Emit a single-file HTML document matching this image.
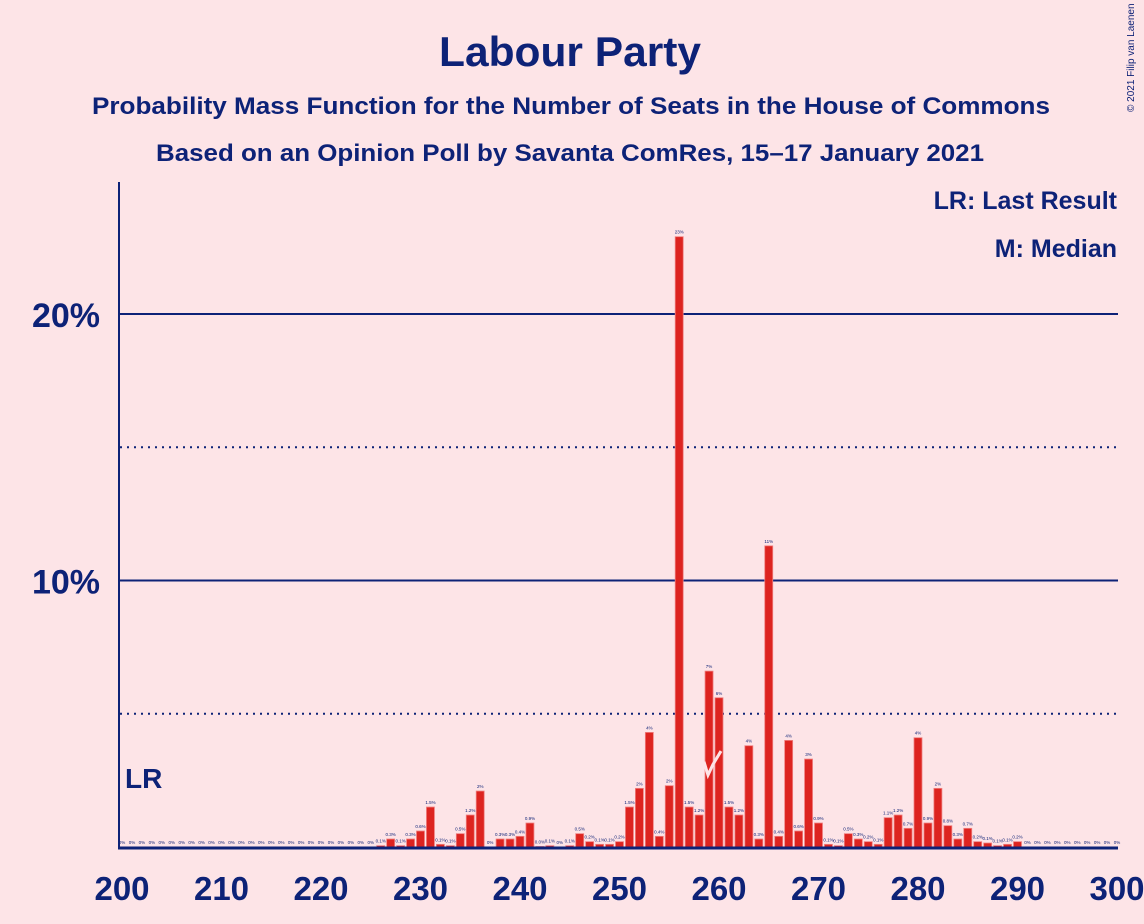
<!DOCTYPE html>
<html><head><meta charset="utf-8"><style>
body{margin:0;background:#fde4e7;}
svg{display:block;font-family:"Liberation Sans",sans-serif;}
</style></head><body>
<svg id="chart" width="1144" height="924" viewBox="0 0 1144 924" xmlns="http://www.w3.org/2000/svg">
<rect width="1144" height="924" fill="#fde4e7"/>
<text x="570" y="66" text-anchor="middle" font-size="42" font-weight="bold" fill="#0d2277" textLength="262" lengthAdjust="spacingAndGlyphs">Labour Party</text>
<text x="571" y="114" text-anchor="middle" font-size="24" font-weight="bold" fill="#0d2277" textLength="958" lengthAdjust="spacingAndGlyphs">Probability Mass Function for the Number of Seats in the House of Commons</text>
<text x="570" y="161" text-anchor="middle" font-size="24" font-weight="bold" fill="#0d2277" textLength="828" lengthAdjust="spacingAndGlyphs">Based on an Opinion Poll by Savanta ComRes, 15–17 January 2021</text>
<text x="1134" y="112" font-size="10" fill="#0d2277" transform="rotate(-90 1134 112)">© 2021 Filip van Laenen</text>
<text x="1117" y="209" text-anchor="end" font-size="25" font-weight="bold" fill="#0d2277">LR: Last Result</text>
<text x="1117" y="257" text-anchor="end" font-size="25" font-weight="bold" fill="#0d2277">M: Median</text>
<g id="grid"></g><g id="bars"></g><g id="axes"></g>
</svg>
<script>
const seats = [];
for (let s = 200; s <= 300; s++) seats.push(s);
const probSeats = [226,227,228,229,230,231,232,233,234,235,236,237,238,239,240,241,242,243,244,245,246,247,248,249,250,251,252,253,254,255,256,257,258,259,260,261,262,263,264,265,266,267,268,269,270,271,272,273,274,275,276,277,278,279,280,281,282,283,284,285,286,287,288,289,290];
const probValues = [0.05,0.3,0.05,0.3,0.6,1.5,0.1,0.05,0.5,1.2,2.1,0,0.3,0.3,0.4,0.9,0.02,0.05,0,0.05,0.5,0.2,0.1,0.1,0.2,1.5,2.2,4.3,0.4,2.3,22.9,1.5,1.2,6.6,5.6,1.5,1.2,3.8,0.3,11.3,0.4,4.0,0.6,3.3,0.9,0.1,0.05,0.5,0.3,0.2,0.1,1.1,1.2,0.7,4.1,0.9,2.2,0.8,0.3,0.7,0.2,0.15,0.05,0.1,0.2];
const xTicks = [200,210,220,230,240,250,260,270,280,290,300];
const yTicks = [10,20];
const yDotted = [5,15];
const lastResult = 202;
const median = 260;

const NS = "http://www.w3.org/2000/svg";
const X0 = 122, X1 = 1117, Y0 = 847, YPER = 26.65;
const xs = s => X0 + (s - 200) * (X1 - X0) / 100;
const ys = v => Y0 - v * YPER;
function mk(tag, attrs, parent) {
  const e = document.createElementNS(NS, tag);
  for (const k in attrs) e.setAttribute(k, attrs[k]);
  parent.appendChild(e);
  return e;
}
const grid = document.getElementById('grid'), bars = document.getElementById('bars'), axes = document.getElementById('axes');
yTicks.forEach(v => {
  const l = mk('line', {x1: 118, x2: 1118, y1: ys(v), y2: ys(v), stroke: '#0d2277', 'stroke-width': 2}, grid);
  
  
  const t = mk('text', {x: 100, y: ys(v) + 13, 'text-anchor': 'end', 'font-size': 34, 'font-weight': 'bold', fill: '#0d2277'}, axes);
  t.textContent = v + '%';
  
  
});
yDotted.forEach(v => {
  const l = mk('line', {x1: 120, x2: 1118, y1: ys(v), y2: ys(v), stroke: '#0d2277', 'stroke-width': 2, 'stroke-dasharray': '2,5'}, grid);
  
  
});
seats.forEach(s => {
  const i = probSeats.indexOf(s);
  const v = i >= 0 ? probValues[i] : 0;
  const x = xs(s);
  if (v > 0) {
    const r = mk('rect', {x: x - 4, y: ys(v), width: 8, height: Y0 - ys(v), fill: '#dd2420', stroke: '#f08080', 'stroke-width': 0.8}, bars);
    
    
  }
  const t = mk('text', {x: x, y: ys(v) - 3, 'text-anchor': 'middle', 'font-size': 4.5, fill: '#0d2277'}, bars);
  t.textContent = v === 0 ? '0%' : (v >= 2 ? Math.round(v) + '%' : v.toFixed(1) + '%');
  
  
});
// median marker
const mx = xs(median);
const mpath = mk('path', {d: `M${mx-15} ${ys(3.2)} L${mx-11} ${ys(2.7)} L${mx-6} ${ys(3.1)} L${mx+2} ${ys(3.6)}`, fill: 'none', stroke: '#fde4e7', 'stroke-width': 3}, bars);


// LR
const lr = mk('text', {x: 125, y: 788, 'font-size': 28, 'font-weight': 'bold', fill: '#0d2277'}, axes);
lr.textContent = 'LR';


const ya = mk('line', {x1: 119, x2: 119, y1: 182, y2: 848, stroke: '#0d2277', 'stroke-width': 2}, axes);


const xa = mk('line', {x1: 118, x2: 1118, y1: 848, y2: 848, stroke: '#0d2277', 'stroke-width': 3}, axes);


xTicks.forEach(s => {
  const t = mk('text', {x: xs(s), y: 900, 'text-anchor': 'middle', 'font-size': 33, 'font-weight': 'bold', fill: '#0d2277'}, axes);
  t.textContent = s;
  
  
});
</script>
</body></html>
